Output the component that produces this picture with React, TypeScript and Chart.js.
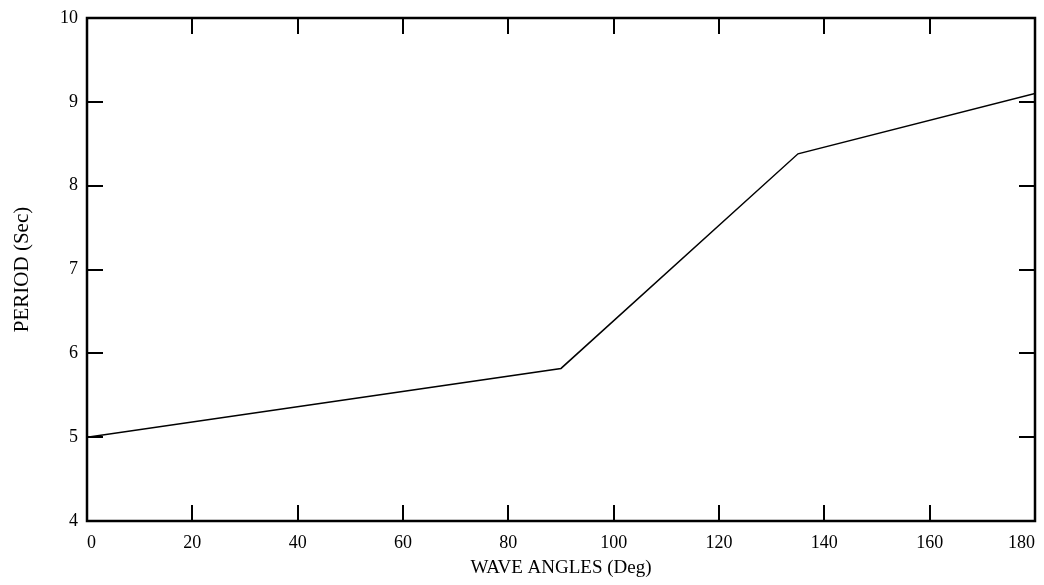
import React, { useEffect, useRef } from "react";
import { Chart, registerables } from "chart.js";

Chart.register(...registerables);

const angles = [0, 90, 135, 180];
const periods = [5.0, 5.82, 8.38, 9.1];
const xTicks = [0, 20, 40, 60, 80, 100, 120, 140, 160, 180];
const yTicks = [4, 5, 6, 7, 8, 9, 10];

const FONT = "'Liberation Serif', 'Times New Roman', serif";

const framePlugin = {
  id: "frameTicks",
  afterDraw(chart: any) {
    const { ctx, chartArea } = chart;
    const { left, right, top, bottom } = chartArea;
    const xs = chart.scales.x;
    const ys = chart.scales.y;
    const len = 16;
    ctx.save();
    ctx.strokeStyle = "#000";
    ctx.lineWidth = 2.5;
    ctx.strokeRect(left, top, right - left, bottom - top);
    ctx.lineWidth = 2;
    ctx.beginPath();
    xTicks.forEach((v) => {
      const px = Math.round(xs.getPixelForValue(v));
      ctx.moveTo(px, bottom);
      ctx.lineTo(px, bottom - len);
      ctx.moveTo(px, top);
      ctx.lineTo(px, top + len);
    });
    yTicks.forEach((v) => {
      const py = Math.round(ys.getPixelForValue(v));
      ctx.moveTo(left, py);
      ctx.lineTo(left + len, py);
      ctx.moveTo(right, py);
      ctx.lineTo(right - len, py);
    });
    ctx.stroke();
    ctx.restore();
  },
};

export default function App() {
  const ref = useRef<HTMLCanvasElement | null>(null);
  useEffect(() => {
    if (!ref.current) return;
    const chart = new Chart(ref.current, {
      type: "line",
      data: {
        datasets: [
          {
            data: angles.map((a, i) => ({ x: a, y: periods[i] })),
            borderColor: "#000",
            borderWidth: 1.5,
            pointRadius: 0,
            tension: 0,
            fill: false,
          },
        ],
      },
      options: {
        animation: false,
        responsive: false,
        maintainAspectRatio: false,
        layout: { padding: { top: 18, right: 9, left: 0, bottom: 0 } },
        plugins: { legend: { display: false }, tooltip: { enabled: false } },
        scales: {
          x: {
            type: "linear",
            min: 0,
            max: 180,
            afterFit(s: any) {
              s.height = 64;
              s.paddingLeft = 0;
              s.paddingRight = 0;
            },
            afterBuildTicks(s: any) {
              s.ticks = xTicks.map((v) => ({ value: v }));
            },
            grid: { display: false, drawTicks: false },
            border: { display: false },
            ticks: {
              color: "#000",
              padding: 11,
              align: "inner",
              maxRotation: 0,
              autoSkip: false,
              font: { family: FONT, size: 18 },
            },
            title: {
              display: true,
              text: "WAVE ANGLES (Deg)",
              color: "#000",
              font: { family: FONT, size: 19 },
              padding: { top: 0, bottom: 6 },
            },
          },
          y: {
            type: "linear",
            min: 4,
            max: 10,
            afterFit(s: any) {
              s.width = 87;
              s.paddingTop = 0;
              s.paddingBottom = 0;
            },
            afterBuildTicks(s: any) {
              s.ticks = yTicks.map((v) => ({ value: v }));
            },
            grid: { display: false, drawTicks: false },
            border: { display: false },
            ticks: {
              color: "#000",
              padding: 9,
              autoSkip: false,
              font: { family: FONT, size: 18 },
            },
            title: {
              display: true,
              text: "PERIOD (Sec)",
              color: "#000",
              font: { family: FONT, size: 21 },
              padding: { top: 10, bottom: 0 },
            },
          },
        },
      },
      plugins: [framePlugin],
    });
    return () => chart.destroy();
  }, []);
  return (
    <div style={{ position: "fixed", left: 0, top: 0, width: 1044, height: 585, background: "#fff" }}>
      <canvas ref={ref} width={1044} height={585} style={{ width: 1044, height: 585 }} />
    </div>
  );
}
